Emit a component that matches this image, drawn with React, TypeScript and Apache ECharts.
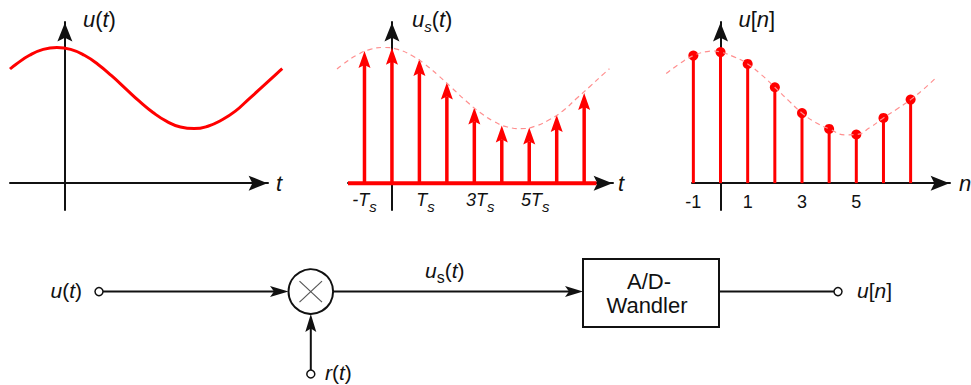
import React, { useEffect, useRef } from 'react';
import * as echarts from 'echarts';

// ---------- data ----------
// continuous signal u(t), t in units of Ts
const tValues = [-2, -1.79, -1.29, -0.79, -0.29, 0.21, 0.71, 1.21, 1.71, 2.21, 2.71, 3.21, 3.71, 4.21, 4.71, 5.21, 5.71, 6.21, 6.71, 7.21, 7.71, 7.92];
const uValues = [4.25, 4.42, 4.76, 4.98, 5.05, 4.98, 4.76, 4.42, 3.99, 3.52, 3.05, 2.63, 2.3, 2.09, 2.03, 2.12, 2.35, 2.68, 3.14, 3.6, 4.07, 4.26];

// sampled signal u_s(t) (weighted Dirac pulses)
const sampleTimes = [-1, 0, 1, 2, 3, 4, 5, 6, 7];
const sampledValues = [4.92, 5.04, 4.62, 3.75, 2.82, 2.15, 2.07, 2.54, 3.36];

// discrete sequence u[n] and its dashed envelope
const nIndex = [-1, 0, 1, 2, 3, 4, 5, 6, 7];
const nValues = [4.75, 4.88, 4.44, 3.57, 2.61, 2.02, 1.81, 2.43, 3.11];
const nEnvX = [-2, -1.5, -1, -0.5, -0.3, 0, 0.5, 1, 1.5, 2, 2.5, 3, 3.5, 4, 4.6, 5, 5.5, 6, 6.5, 7, 7.5, 7.96];
const nEnvValues = [4.08, 4.45, 4.75, 4.9, 4.92, 4.88, 4.7, 4.44, 4.04, 3.57, 3.08, 2.61, 2.26, 2.02, 1.8, 1.81, 2.07, 2.43, 2.76, 3.11, 3.52, 3.95];

// tick labels
const sampleTickValues = [-1, 1, 3, 5];
const sampleTickLabels = ['-T', 'T', '3T', '5T'];
const indexTickValues = [-1, 1, 3, 5];
const indexTickLabels = ['-1', '1', '3', '5'];

// ---------- styles ----------
const RED = '#ff0000';
const ENV = '#ff8f8f';
const INK = '#111111';
const FONT = '"Liberation Sans", Arial, Helvetica, sans-serif';
const arrowPath = 'path://M8 0L16 20L8 16L0 20Z';

const it = (size: number) => ({ fontFamily: FONT, fontStyle: 'italic', fontSize: size, color: INK, lineHeight: size + 4 });
const up = (size: number) => ({ fontFamily: FONT, fontStyle: 'normal', fontSize: size, color: INK, lineHeight: size + 4 });
const sub = (size: number, italic: boolean, drop: number) => ({
  fontFamily: FONT, fontStyle: italic ? 'italic' : 'normal', fontSize: size, color: INK, lineHeight: 8, padding: [drop, 0, 0, 0],
});

const axisLine = () => ({
  show: true,
  onZero: true,
  lineStyle: { color: INK, width: 2 },
  symbol: ['none', arrowPath],
  symbolSize: [15, 20],
  symbolOffset: [0, -10],
});

const Y_MIN = -1;
const Y_MAX = 6;
const GRID_TOP = 22;
const GRID_H = 188;

// visible plot frames: [left px, width px, axis min, axis max]
const frames = [
  { left: 10, width: 258, min: -2, max: 7.4 },
  { left: 348, width: 265, min: -1.6, max: 8.05 },
  { left: 692, width: 258, min: -1.05, max: 8.45 },
];
// hidden frames for curves extending past the drawn axes (same scale)
function curveGrid(f: { left: number; width: number; min: number; max: number }, lo: number, hi: number) {
  const s = f.width / (f.max - f.min);
  return { left: f.left + (lo - f.min) * s, width: (hi - lo) * s, min: lo, max: hi };
}

function makeYAxis(grid: number, name: string, rich: any, pad: number) {
  return {
    gridIndex: grid,
    type: 'value',
    min: Y_MIN,
    max: Y_MAX,
    axisLine: axisLine(),
    axisTick: { show: false },
    axisLabel: { show: false },
    splitLine: { show: false },
    name,
    nameLocation: 'end',
    nameGap: 3,
    nameTextStyle: { align: 'left', verticalAlign: 'middle', padding: [0, 0, 0, pad], rich },
  };
}

export default function App() {
  const ref = useRef<HTMLDivElement>(null);

  useEffect(() => {
    if (!ref.current) return;
    const chart = echarts.init(ref.current, null, { renderer: 'svg' });

    const c1 = curveGrid(frames[0], tValues[0], tValues[tValues.length - 1]);
    const c2 = curveGrid(frames[1], tValues[0], tValues[tValues.length - 1]);
    const c3 = curveGrid(frames[2], nEnvX[0], nEnvX[nEnvX.length - 1]);
    const hiddenFrames = [c1, c2, c3];

    const sRich = { i: it(22), n: up(22), s: sub(15, true, 14) };

    const Yc = 291.6;
    const diag: any[] = [];
    const L = (x1: number, y1: number, x2: number, y2: number, w = 2, c = INK, z = 10) =>
      diag.push({ type: 'line', shape: { x1, y1, x2, y2 }, style: { stroke: c, lineWidth: w }, z });
    const C = (cx: number, cy: number, r: number, w = 1.5) =>
      diag.push({ type: 'circle', shape: { cx, cy, r }, style: { fill: '#fff', stroke: INK, lineWidth: w }, z: 11 });
    const T = (x: number, y: number, text: string, align: string, rich: any) =>
      diag.push({
        type: 'text', x, y, z: 12,
        style: { text, align, textAlign: align, verticalAlign: 'middle', textVerticalAlign: 'middle', rich, fill: INK, font: `21px ${FONT}` },
      });
    const P = (pts: number[][]) => diag.push({ type: 'polygon', shape: { points: pts }, style: { fill: INK }, z: 11 });

    const dRich = { i: it(21), n: up(21), s: sub(16, false, 14) };

    // input
    T(82, 290, '{i|u}{n|(}{i|t}{n|)}', 'right', dRich);
    L(103, Yc, 276, Yc);
    P([[288.5, Yc], [270, Yc - 5.5], [274, Yc], [270, Yc + 5.5]]);
    C(99, Yc, 4);
    // multiplier
    C(310.8, Yc, 22.3, 2);
    L(299.5, Yc - 10.5, 322, Yc + 10.5, 1.2, '#555', 13);
    L(299.5, Yc + 10.5, 322, Yc - 10.5, 1.2, '#555', 13);
    // r(t)
    L(310.8, 370, 310.8, 326);
    P([[310.8, 314], [305.3, 332], [310.8, 328.5], [316.3, 332]]);
    C(310.8, 374, 4);
    T(325, 372, '{i|r}{n|(}{i|t}{n|)}', 'left', dRich);
    // to A/D
    L(333, Yc, 570, Yc);
    T(425, 270, '{i|u}{s|s}{n|(}{i|t}{n|)}', 'left', dRich);
    P([[583, Yc], [565, Yc - 5.5], [569, Yc], [565, Yc + 5.5]]);
    diag.push({ type: 'rect', shape: { x: 583, y: 259, width: 136, height: 68 }, style: { fill: '#fff', stroke: INK, lineWidth: 2 }, z: 10 });
    diag.push({ type: 'text', x: 649, y: 281, z: 12, style: { text: 'A/D-', align: 'center', textAlign: 'center', verticalAlign: 'middle', textVerticalAlign: 'middle', fill: INK, font: `22px ${FONT}` } });
    diag.push({ type: 'text', x: 647, y: 305, z: 12, style: { text: 'Wandler', align: 'center', textAlign: 'center', verticalAlign: 'middle', textVerticalAlign: 'middle', fill: INK, font: `22px ${FONT}` } });
    // output
    L(719, Yc, 834, Yc);
    C(838, Yc, 4);
    T(857, 290, '{i|u}{n|[}{i|n}{n|]}', 'left', dRich);

    const tickRich = {
      t: { fontFamily: FONT, fontStyle: 'italic', fontSize: 18, color: INK, lineHeight: 20 },
      s: sub(15, true, 13),
      sp: { width: 12 },
    };

    const grids: any[] = frames.map((f) => ({ left: f.left, top: GRID_TOP, width: f.width, height: GRID_H, containLabel: false, outerBoundsMode: 'none' }));
    hiddenFrames.forEach((f) => grids.push({ left: f.left, top: GRID_TOP, width: f.width, height: GRID_H, containLabel: false, outerBoundsMode: 'none' }));

    const xAxes: any[] = [
      {
        gridIndex: 0, type: 'value', min: frames[0].min, max: frames[0].max,
        axisLine: axisLine(), axisTick: { show: false }, axisLabel: { show: false }, splitLine: { show: false },
        name: '{i|t}', nameLocation: 'end', nameGap: 8, nameTextStyle: { rich: { i: it(22) } },
      },
      {
        gridIndex: 1, type: 'value', min: frames[1].min, max: frames[1].max,
        axisLine: axisLine(), axisTick: { show: false }, splitLine: { show: false },
        axisLabel: {
          show: true,
          customValues: sampleTickValues,
          margin: -20,
          formatter: (v: number) => {
            const i = sampleTickValues.indexOf(v);
            const lab = i >= 0 ? sampleTickLabels[i] : '';
            return v < 0 ? `{t|${lab}}{s|s}` : `{sp|}{t|${lab}}{s|s}`;
          },
          rich: tickRich,
        },
        name: '{i|t}', nameLocation: 'end', nameGap: 5, nameTextStyle: { rich: { i: it(22) } },
      },
      {
        gridIndex: 2, type: 'value', min: frames[2].min, max: frames[2].max,
        axisLine: axisLine(), axisTick: { show: false }, splitLine: { show: false },
        axisLabel: {
          show: true,
          customValues: indexTickValues,
          margin: -17,
          formatter: (v: number) => {
            const i = indexTickValues.indexOf(v);
            return i >= 0 ? indexTickLabels[i] : '';
          },
          fontFamily: FONT, fontSize: 18, color: INK,
        },
        name: '{i|n}', nameLocation: 'end', nameGap: 9, nameTextStyle: { rich: { i: it(22) } },
      },
    ];
    hiddenFrames.forEach((f, k) => xAxes.push({ gridIndex: 3 + k, type: 'value', min: f.min, max: f.max, show: false }));

    const yAxes: any[] = [
      makeYAxis(0, '{i|u}{n|(}{i|t}{n|)}', sRich, 18),
      makeYAxis(1, '{i|u}{s|s}{n|(}{i|t}{n|)}', sRich, 20),
      makeYAxis(2, '{i|u}{n|[}{i|n}{n|]}', sRich, 18),
    ];
    hiddenFrames.forEach((_f, k) => yAxes.push({ gridIndex: 3 + k, type: 'value', min: Y_MIN, max: Y_MAX, show: false }));

    const option: any = {
      animation: false,
      backgroundColor: '#fff',
      grid: grids,
      xAxis: xAxes,
      yAxis: yAxes,
      series: [
        {
          type: 'line', xAxisIndex: 3, yAxisIndex: 3, smooth: true, showSymbol: false, clip: false,
          data: tValues.map((t, i) => [t, uValues[i]]),
          lineStyle: { color: RED, width: 3 },
        },
        {
          type: 'line', xAxisIndex: 4, yAxisIndex: 4, smooth: true, showSymbol: false, clip: false,
          data: tValues.map((t, i) => [t, uValues[i]]),
          lineStyle: { color: ENV, width: 1.2, type: [5, 4] },
        },
        {
          type: 'line', xAxisIndex: 1, yAxisIndex: 1, showSymbol: false, clip: false,
          data: [[frames[1].min, 0], [7.45, 0]],
          lineStyle: { color: RED, width: 4 },
        },
        {
          type: 'custom', xAxisIndex: 1, yAxisIndex: 1, clip: false,
          data: sampleTimes.map((t, i) => [t, sampledValues[i]]),
          encode: { x: 0, y: 1 },
          renderItem: (_p: any, api: any) => {
            const t = api.value(0);
            const v = api.value(1);
            const b = api.coord([t, 0]);
            const p = api.coord([t, v]);
            const h = 17;
            const w = 6;
            return {
              type: 'group',
              children: [
                { type: 'line', shape: { x1: b[0], y1: b[1], x2: p[0], y2: p[1] + h - 3 }, style: { stroke: RED, lineWidth: 3.5 } },
                { type: 'polygon', shape: { points: [[p[0], p[1]], [p[0] + w, p[1] + h], [p[0], p[1] + h - 3], [p[0] - w, p[1] + h]] }, style: { fill: RED } },
              ],
            };
          },
        },
        {
          type: 'line', xAxisIndex: 5, yAxisIndex: 5, smooth: true, showSymbol: false, clip: false,
          data: nEnvX.map((x, i) => [x, nEnvValues[i]]),
          lineStyle: { color: ENV, width: 1.2, type: [5, 4] },
        },
        {
          type: 'custom', xAxisIndex: 2, yAxisIndex: 2, clip: false,
          data: nIndex.map((n, i) => [n, nValues[i]]),
          encode: { x: 0, y: 1 },
          renderItem: (_p: any, api: any) => {
            const n = api.value(0);
            const v = api.value(1);
            const b = api.coord([n, 0]);
            const p = api.coord([n, v]);
            return {
              type: 'group',
              children: [
                { type: 'line', shape: { x1: b[0], y1: b[1], x2: p[0], y2: p[1] }, style: { stroke: RED, lineWidth: 3 } },
                { type: 'circle', shape: { cx: p[0], cy: p[1], r: 5 }, style: { fill: RED } },
              ],
            };
          },
        },
      ],
      graphic: { elements: diag },
    };

    chart.setOption(option);
    return () => chart.dispose();
  }, []);

  return (
    <div
      ref={ref}
      style={{ position: 'fixed', left: 0, top: 0, width: 971, height: 385, background: '#fff' }}
    />
  );
}
